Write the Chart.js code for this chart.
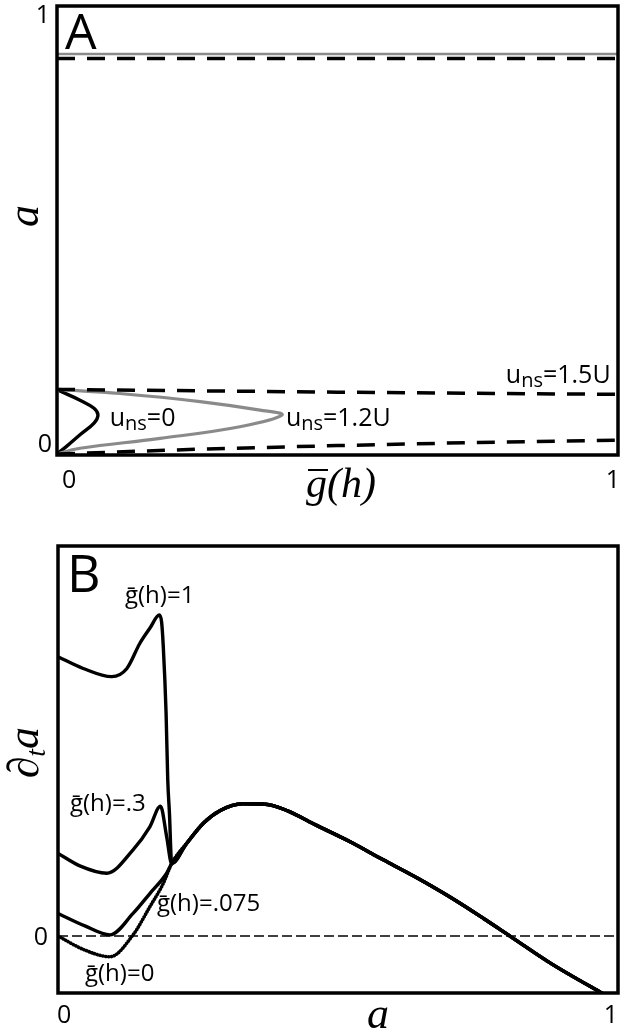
<!DOCTYPE html>
<html>
<head>
<meta charset="utf-8">
<script src="https://cdn.jsdelivr.net/npm/chart.js@4.4.1/dist/chart.umd.min.js"></script>
<style>
  html, body { margin: 0; padding: 0; background: #fff; }
  #wrap { position: relative; width: 626px; height: 1034px; }
  canvas { position: absolute; left: 0; }
  #chartA { top: 0; }
  #chartB { top: 520px; }
</style>
</head>
<body>
<div id="wrap">
  <canvas id="chartA" width="626" height="520"></canvas>
  <canvas id="chartB" width="626" height="514"></canvas>
</div>
<script>
// ---- panel A : g(h) on x, a on y ----
const gFlat = [0, 1];
const aFlatGray = [0.893, 0.893];
const aFlatDash = [0.883, 0.883];

const gUpper15 = [0, 0.5, 1];
const aUpper15 = [0.146, 0.140, 0.135];
const gLower15 = [0, 0.25, 0.5, 0.75, 1];
const aLower15 = [0.002, 0.013, 0.021, 0.028, 0.033];

const gUns12 = [0.002, 0.112, 0.255, 0.362, 0.401, 0.326, 0.184, 0.041, 0.005, 0];
const aUns12 = [0.146, 0.137, 0.119, 0.100, 0.089, 0.063, 0.037, 0.015, 0.004, 0];

const gUns0 = [0.004, 0.041, 0.066, 0.073, 0.066, 0.041, 0.016, 0.002, 0];
const aUns0 = [0.143, 0.122, 0.104, 0.089, 0.071, 0.045, 0.018, 0.004, 0];

// ---- panel B : a on x, d_t a on y ----
const aCommon = [0.203, 0.23, 0.26, 0.29, 0.33, 0.37, 0.41, 0.46, 0.52, 0.58, 0.64, 0.70, 0.76, 0.807, 0.88, 0.97, 1.0];
const vCommon = [0.186, 0.238, 0.290, 0.322, 0.339, 0.338, 0.321, 0.285, 0.243, 0.196, 0.150, 0.100, 0.045, 0, -0.070, -0.145, -0.169];

const aLeadG1 = [0, 0.045, 0.096, 0.123, 0.146, 0.164, 0.181, 0.185, 0.188, 0.193, 0.196, 0.199];
const vLeadG1 = [0.716, 0.686, 0.665, 0.686, 0.750, 0.789, 0.823, 0.805, 0.742, 0.572, 0.400, 0.315];

const aLeadG3 = [0, 0.039, 0.087, 0.134, 0.164, 0.183, 0.194];
const vLeadG3 = [0.212, 0.180, 0.161, 0.221, 0.280, 0.333, 0.255];

const aLeadG075 = [0, 0.048, 0.093, 0.134, 0.164, 0.194];
const vLeadG075 = [0.058, 0.026, 0.003, 0.058, 0.109, 0.161];

const aLeadG0 = [0, 0.048, 0.093, 0.134, 0.164, 0.188];
const vLeadG0 = [0, -0.036, -0.053, 0.003, 0.075, 0.135];

const SANS = '"Open Sans", sans-serif';
const SERIF = '"Liberation Serif", serif';
const GRAY = '#8a8a8a';

const pts = (xs, ys) => xs.map((x, i) => ({ x, y: ys[i] }));

function runs(ctx, x, y, parts) {
  let cx = x;
  parts.forEach(([t, font, dy]) => {
    ctx.font = font;
    ctx.fillText(t, cx, y + (dy || 0));
    cx += ctx.measureText(t).width;
  });
  return cx - x;
}

function runsWidth(ctx, parts) {
  let w = 0;
  parts.forEach(([t, font]) => { ctx.font = font; w += ctx.measureText(t).width; });
  return w;
}

function uns(ctx, x, y, rest) {
  runs(ctx, x, y, [
    ['u', '25px ' + SANS],
    ['ns', '20px ' + SANS, 4],
    [rest, '25px ' + SANS]
  ]);
}

const frame = {
  id: 'frame',
  afterDatasetsDraw(chart) {
    const { ctx, chartArea: c } = chart;
    ctx.save();
    ctx.lineWidth = 3.5;
    ctx.strokeStyle = '#000';
    ctx.strokeRect(c.left, c.top, c.right - c.left, c.bottom - c.top);
    ctx.restore();
  }
};

const lineSet = (data, color, width, dash, extra) => Object.assign({
  data, showLine: true, borderColor: color, borderWidth: width,
  borderDash: dash || [], pointRadius: 0, fill: false
}, extra || {});

const baseScales = (ymin, ymax) => ({
  x: { type: 'linear', min: 0, max: 1, display: false },
  y: { type: 'linear', min: ymin, max: ymax, display: false }
});

const textA = {
  id: 'textA',
  afterDraw(chart) {
    const { ctx, scales: { x, y } } = chart;
    ctx.save();
    ctx.fillStyle = '#000';
    ctx.textBaseline = 'alphabetic';

    ctx.textAlign = 'left';
    ctx.font = '50px ' + SANS;
    ctx.fillText('A', x.getPixelForValue(0) + 8, y.getPixelForValue(1) + 43);

    ctx.font = '25px ' + SANS;
    ctx.textAlign = 'right';
    ctx.fillText('1', x.getPixelForValue(0) - 7, y.getPixelForValue(1) + 17);
    ctx.fillText('0', x.getPixelForValue(0) - 5, y.getPixelForValue(0) - 3);
    ctx.textAlign = 'left';
    ctx.fillText('0', x.getPixelForValue(0) + 5, y.getPixelForValue(0) + 33);
    ctx.textAlign = 'right';
    ctx.fillText('1', x.getPixelForValue(1) + 2, y.getPixelForValue(0) + 33);

    ctx.textAlign = 'left';
    uns(ctx, x.getPixelForValue(0.094), y.getPixelForValue(0.082) + 8, '=0');
    uns(ctx, x.getPixelForValue(0.408), y.getPixelForValue(0.082) + 8, '=1.2U');
    uns(ctx, x.getPixelForValue(0.800), y.getPixelForValue(0.163) + 1, '=1.5U');

    // x title: g-bar(h)
    const gx = 306, gy = y.getPixelForValue(0) + 42;
    const it = 'italic 42px ' + SERIF;
    ctx.font = it;
    const gw = ctx.measureText('g').width;
    runs(ctx, gx, gy, [['g', it], ['(h)', it]]);
    ctx.lineWidth = 2;
    ctx.strokeStyle = '#000';
    ctx.beginPath();
    ctx.moveTo(gx + 2, gy - 27);
    ctx.lineTo(gx + gw + 1, gy - 27);
    ctx.stroke();

    // y title: a
    ctx.translate(38, 216);
    ctx.rotate(-Math.PI / 2);
    ctx.textAlign = 'center';
    ctx.font = 'italic 44px ' + SERIF;
    ctx.fillText('a', 0, 0);
    ctx.restore();
  }
};

const textB = {
  id: 'textB',
  afterDraw(chart) {
    const { ctx, scales: { x, y } } = chart;
    ctx.save();
    ctx.fillStyle = '#000';
    ctx.textBaseline = 'alphabetic';
    ctx.textAlign = 'left';
    ctx.font = '52px ' + SANS;
    const top = chart.chartArea.top, bottom = chart.chartArea.bottom;
    ctx.fillText('B', x.getPixelForValue(0) + 9, top + 46);

    ctx.font = '25px ' + SANS;
    ctx.textAlign = 'right';
    ctx.fillText('0', x.getPixelForValue(0) - 10, y.getPixelForValue(0) + 9);
    ctx.textAlign = 'left';
    ctx.fillText('0', x.getPixelForValue(0) - 1, bottom + 30);
    ctx.textAlign = 'right';
    ctx.fillText('1', x.getPixelForValue(1), bottom + 30);

    ctx.font = '24px ' + SANS;
    ctx.textAlign = 'left';
    ctx.fillText('\u1e21(h)=1', 125, y.getPixelForValue(0.843) - 4);
    ctx.fillText('\u1e21(h)=.3', 70, y.getPixelForValue(0.317) - 1);
    ctx.fillText('\u1e21(h)=.075', 157, y.getPixelForValue(0.061) - 1);
    ctx.fillText('\u1e21(h)=0', 85, y.getPixelForValue(-0.115));

    // x title
    ctx.textAlign = 'center';
    ctx.font = 'italic 44px ' + SERIF;
    ctx.fillText('a', 378, bottom + 35);

    // y title: d_t a, centred a little above the middle of the frame
    const it = 'italic 44px ' + SERIF;
    const parts = [['\u2202', it], ['t', 'italic 28px ' + SERIF, 7], ['a', it]];
    ctx.translate(38, y.getPixelForValue(0.47));
    ctx.rotate(-Math.PI / 2);
    ctx.textAlign = 'left';
    const w = runsWidth(ctx, parts);
    runs(ctx, -w / 2, 0, parts);
    ctx.restore();
  }
};

new Chart(document.getElementById('chartA'), {
  type: 'scatter',
  data: {
    datasets: [
      lineSet(pts(gFlat, aFlatGray), GRAY, 2.5),
      lineSet(pts(gFlat, aFlatDash), '#000', 3.5, [18, 12]),
      lineSet(pts(gUpper15, aUpper15), '#000', 3.5, [18, 12]),
      lineSet(pts(gLower15, aLower15), '#000', 3.5, [18, 12]),
      lineSet(pts(gUns12, aUns12), GRAY, 3.2, [], { tension: 0.4 }),
      lineSet(pts(gUns0, aUns0), '#000', 3.4, [], { tension: 0.4 })
    ]
  },
  options: {
    responsive: false,
    animation: false,
    layout: { padding: { left: 57, right: 8, top: 6, bottom: 65 } },
    scales: baseScales(0, 1),
    plugins: { legend: { display: false }, tooltip: { enabled: false } }
  },
  plugins: [frame, textA]
});

new Chart(document.getElementById('chartB'), {
  type: 'scatter',
  data: {
    datasets: [
      lineSet(pts(gFlat, [0, 0]), '#000', 1.6, [10, 4]),
      lineSet(pts(aLeadG0.concat(aCommon), vLeadG0.concat(vCommon)), '#000', 3.6, [0.1, 2.8],
        { cubicInterpolationMode: 'monotone', borderCapStyle: 'round' }),
      lineSet(pts(aLeadG075.concat(aCommon), vLeadG075.concat(vCommon)), '#000', 3.4, [],
        { cubicInterpolationMode: 'monotone' }),
      lineSet(pts(aLeadG3.concat(aCommon), vLeadG3.concat(vCommon)), '#000', 3.4, [],
        { cubicInterpolationMode: 'monotone' }),
      lineSet(pts(aLeadG1.concat(aCommon), vLeadG1.concat(vCommon)), '#000', 3.4, [],
        { cubicInterpolationMode: 'monotone' })
    ]
  },
  options: {
    responsive: false,
    animation: false,
    layout: { padding: { left: 58, right: 8, top: 26, bottom: 41 } },
    scales: baseScales(-0.146, 1.0),
    plugins: { legend: { display: false }, tooltip: { enabled: false } }
  },
  plugins: [frame, textB]
});
</script>
</body>
</html>
